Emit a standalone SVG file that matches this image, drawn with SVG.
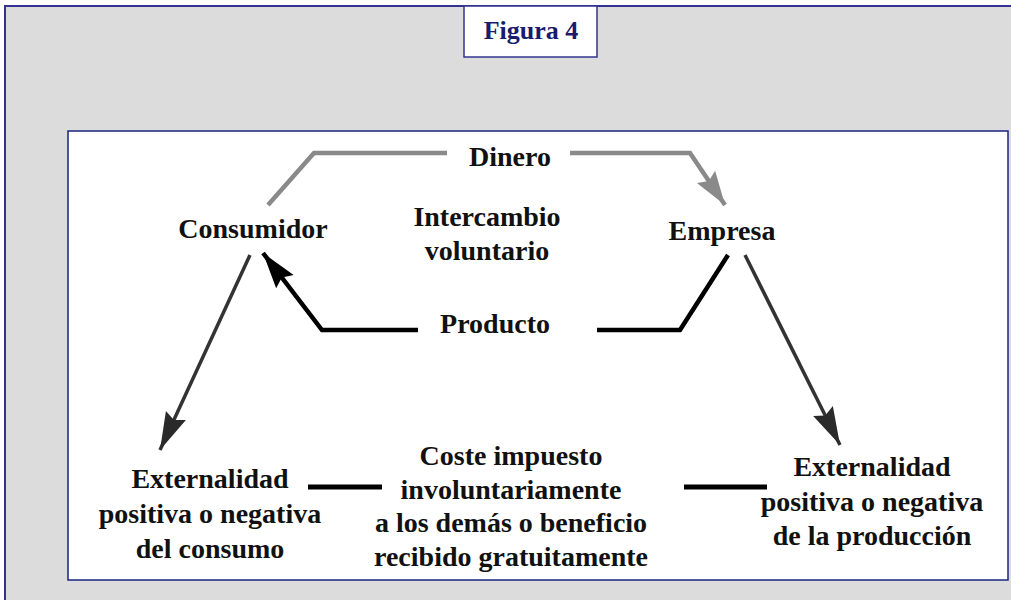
<svg xmlns="http://www.w3.org/2000/svg" width="1011" height="600" viewBox="0 0 1011 600">
<defs>
<style>
.t{font-family:"Liberation Serif","Times New Roman",serif;font-weight:bold;font-size:28px;fill:#111;text-anchor:middle}
.gray{stroke:#8a8a8a;stroke-width:4.5;fill:none}
.blk{stroke:#000;stroke-width:4.5;fill:none}
.dk{stroke:#333;stroke-width:3.5;fill:none}
</style>
<marker id="aG" markerWidth="36" markerHeight="26" refX="34" refY="13" orient="auto" markerUnits="userSpaceOnUse"><path d="M0,2 L34,13 L0,24 L5,13 Z" fill="#8a8a8a"/></marker>
<marker id="aB" markerWidth="38" markerHeight="26" refX="36" refY="13" orient="auto" markerUnits="userSpaceOnUse"><path d="M0,2 L36,13 L0,24 L5,13 Z" fill="#000"/></marker>
<marker id="aD" markerWidth="40" markerHeight="26" refX="38" refY="13" orient="auto" markerUnits="userSpaceOnUse"><path d="M0,2 L38,13 L0,24 L5,13 Z" fill="#2a2a2a"/></marker>
</defs>
<rect x="5" y="6" width="1020" height="610" fill="#dcdcdc" stroke="#33338f" stroke-width="2"/>
<g id="title"><rect x="464" y="6" width="133" height="51" fill="#fff" stroke="#33338f" stroke-width="1.5"/><text x="531" y="39" style="font-family:'Liberation Serif','Times New Roman',serif;font-weight:bold;font-size:26px;fill:#1a1a6e;text-anchor:middle">Figura 4</text></g>
<rect id="panel" x="68" y="131" width="940" height="449" fill="#fff" stroke="#1a237e" stroke-width="1.5"/>
<g id="connectors">
<polyline class="gray" points="447,153 314,153 268,205"/>
<polyline class="gray" points="570,153 690,153 725,205" marker-end="url(#aG)"/>
<polyline class="blk" points="418,330 322,330 263,253" marker-end="url(#aB)"/>
<polyline class="blk" points="597,330 680,330 728,255"/>
<line class="dk" x1="745" y1="255" x2="840" y2="445" marker-end="url(#aD)"/>
<line class="dk" x1="250" y1="255" x2="160" y2="450" marker-end="url(#aD)"/>
<line x1="308" y1="487" x2="382" y2="487" stroke="#000" stroke-width="5"/>
<line x1="684" y1="487" x2="767" y2="487" stroke="#000" stroke-width="5"/>
</g>
<g id="dinero"><text class="t" x="510" y="166">Dinero</text></g>
<g id="consumidor"><text class="t" x="253" y="238">Consumidor</text></g>
<g id="intercambio"><text class="t" x="487" y="226">Intercambio</text><text class="t" x="487" y="260">voluntario</text></g>
<g id="empresa"><text class="t" x="722" y="240">Empresa</text></g>
<g id="producto"><text class="t" x="495" y="333">Producto</text></g>
<g id="ext-consumo"><text class="t" x="210" y="488">Externalidad</text><text class="t" x="210" y="523">positiva o negativa</text><text class="t" x="210" y="558">del consumo</text></g>
<g id="coste"><text class="t" x="511" y="465">Coste impuesto</text><text class="t" x="511" y="499">involuntariamente</text><text class="t" x="511" y="532">a los demás o beneficio</text><text class="t" x="511" y="566">recibido gratuitamente</text></g>
<g id="ext-produccion"><text class="t" x="872" y="476">Externalidad</text><text class="t" x="872" y="511">positiva o negativa</text><text class="t" x="872" y="545">de la producción</text></g>
</svg>
